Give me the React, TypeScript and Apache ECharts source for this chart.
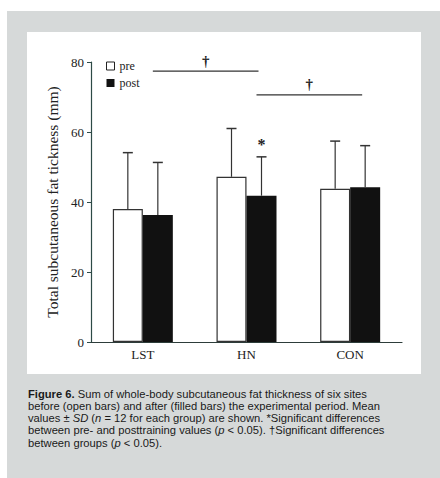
import React, { useEffect, useRef } from "react";
import * as echarts from "echarts";

const categories = ["LST", "HN", "CON"];
const seriesNames = ["pre", "post"];
const preMeans = [38.0, 47.2, 43.8];
const postMeans = [36.3, 41.8, 44.2];
const preSD = [16.1, 13.8, 13.6];
const postSD = [15.0, 11.1, 11.9];
const yTicks = [0, 20, 40, 60, 80];
// significance between groups: [from, to, level]
const groupSigFrom = ["LST", "HN"];
const groupSigTo = ["HN", "CON"];
const groupSigLevel = [77.4, 70.6];
// within-group (pre vs post) significance, marked on post bar
const prePostSig = [false, true, false];

const captionLines = [
  "{b|Figure 6.} Sum of whole-body subcutaneous fat thickness of six sites",
  "before (open bars) and after (filled bars) the experimental period. Mean",
  "values ± {i|SD} ({i|n} = 12 for each group) are shown. *Significant differences",
  "between pre- and posttraining values ({i|p} < 0.05). †Significant differences",
  "between groups ({i|p} < 0.05).",
];

const SERIF = "'Liberation Serif', 'DejaVu Serif', serif";
const SANS = "'Liberation Sans', Arial, sans-serif";
const BAR_W = 30;
const CAP_FS = 11.2;

export default function App() {
  const ref = useRef<HTMLDivElement>(null);
  useEffect(() => {
    const chart = echarts.init(ref.current!, null, { renderer: "svg" });

    const errData: any[] = [];
    categories.forEach((c, i) => {
      errData.push([i, preMeans[i], preSD[i], -BAR_W / 2, 0]);
      errData.push([i, postMeans[i], postSD[i], BAR_W / 2, prePostSig[i] ? 1 : 0]);
    });

    const sigData = groupSigFrom.map((f, k) => [
      categories.indexOf(f),
      categories.indexOf(groupSigTo[k]),
      groupSigLevel[k],
    ]);

    const captionGraphics = captionLines.map((t, k) => ({
      type: "text",
      left: 28,
      top: 388 + k * 12.3,
      style: {
        text: t,
        fill: "#1a1a1a",
        font: `${CAP_FS}px ${SANS}`,
        rich: {
          b: { fontWeight: "bold", fontSize: CAP_FS, fontFamily: SANS, fill: "#1a1a1a" },
          i: { fontStyle: "italic", fontSize: CAP_FS, fontFamily: SANS, fill: "#1a1a1a" },
        },
      },
      z: 10,
    }));

    chart.setOption({
      animation: false,
      backgroundColor: "#ffffff",
      graphic: [
        {
          type: "rect",
          shape: { x: 7, y: 11, width: 433, height: 467 },
          style: { fill: "#d6d9d9" },
          z: -10,
          silent: true,
        },
        {
          type: "rect",
          shape: { x: 27, y: 32, width: 394, height: 342 },
          style: { fill: "#ffffff" },
          z: -9,
          silent: true,
        },
        ...captionGraphics,
      ],
      legend: {
        orient: "vertical",
        left: 101,
        top: 55,
        itemWidth: 8,
        itemHeight: 8,
        itemGap: 5,
        selectedMode: false,
        data: [
          { name: "pre", icon: "rect", itemStyle: { color: "#fff", borderColor: "#222", borderWidth: 1 } },
          { name: "post", icon: "rect", itemStyle: { color: "#111" } },
        ],
        textStyle: { fontFamily: SERIF, fontSize: 12, color: "#222" },
      },
      grid: { left: 91, right: 38, top: 62, bottom: 136 },
      xAxis: {
        type: "category",
        data: categories,
        axisLine: { lineStyle: { color: "#2d3d3a", width: 1.2 } },
        axisTick: { inside: true, length: 4, lineStyle: { color: "#2d3d3a" } },
        axisLabel: { fontFamily: SERIF, fontSize: 13, color: "#222", margin: 6 },
      },
      yAxis: {
        type: "value",
        min: yTicks[0],
        max: yTicks[yTicks.length - 1],
        interval: 20,
        name: "Total subcutaneous fat tickness (mm)",
        nameLocation: "middle",
        nameGap: 28,
        nameTextStyle: { fontFamily: SERIF, fontSize: 15.5, color: "#222" },
        axisLine: { show: true, lineStyle: { color: "#2d4a46", width: 1.2 } },
        axisTick: { show: true, length: 4, lineStyle: { color: "#2d4a46" } },
        axisLabel: { fontFamily: SERIF, fontSize: 13, color: "#222", margin: 7 },
        splitLine: { show: false },
      },
      series: [
        {
          name: seriesNames[0],
          type: "bar",
          data: preMeans,
          barWidth: BAR_W,
          barGap: "0%",
          itemStyle: { color: "#ffffff", borderColor: "#333", borderWidth: 1.2 },
        },
        {
          name: seriesNames[1],
          type: "bar",
          data: postMeans,
          barWidth: BAR_W,
          barGap: "0%",
          itemStyle: { color: "#111111", borderColor: "#111", borderWidth: 0 },
        },
        {
          type: "custom",
          data: errData,
          z: 5,
          renderItem: (params: any, api: any) => {
            const idx = api.value(0);
            const mean = api.value(1);
            const sd = api.value(2);
            const off = api.value(3);
            const star = api.value(4);
            const base = api.coord([idx, mean]);
            const top = api.coord([idx, mean + sd]);
            const x = base[0] + off;
            const children: any[] = [
              {
                type: "line",
                shape: { x1: x, y1: base[1], x2: x, y2: top[1] },
                style: { stroke: "#333", lineWidth: 1.2 },
              },
              {
                type: "line",
                shape: { x1: x - 5, y1: top[1], x2: x + 5, y2: top[1] },
                style: { stroke: "#333", lineWidth: 1.5 },
              },
            ];
            if (star) {
              children.push({
                type: "text",
                x: x,
                y: top[1] - 4,
                style: {
                  text: "*",
                  font: `bold 16px ${SERIF}`,
                  fill: "#222",
                  align: "center",
                  verticalAlign: "bottom",
                },
              });
            }
            return { type: "group", children };
          },
        },
        {
          type: "custom",
          data: sigData,
          z: 5,
          renderItem: (params: any, api: any) => {
            const a = api.coord([api.value(0), api.value(2)]);
            const b = api.coord([api.value(1), api.value(2)]);
            const x1 = a[0] + 10;
            const x2 = b[0] + 12;
            const y = a[1];
            return {
              type: "group",
              children: [
                {
                  type: "line",
                  shape: { x1, y1: y, x2, y2: y },
                  style: { stroke: "#333", lineWidth: 1.3 },
                },
                {
                  type: "text",
                  x: (x1 + x2) / 2,
                  y: y - 3,
                  style: {
                    text: "†",
                    font: `bold 15px ${SERIF}`,
                    fill: "#222",
                    align: "center",
                    verticalAlign: "bottom",
                  },
                },
              ],
            };
          },
        },
      ],
    });
    return () => chart.dispose();
  }, []);

  return (
    <div
      ref={ref}
      style={{ position: "fixed", left: 0, top: 0, width: 440, height: 478 }}
    />
  );
}
